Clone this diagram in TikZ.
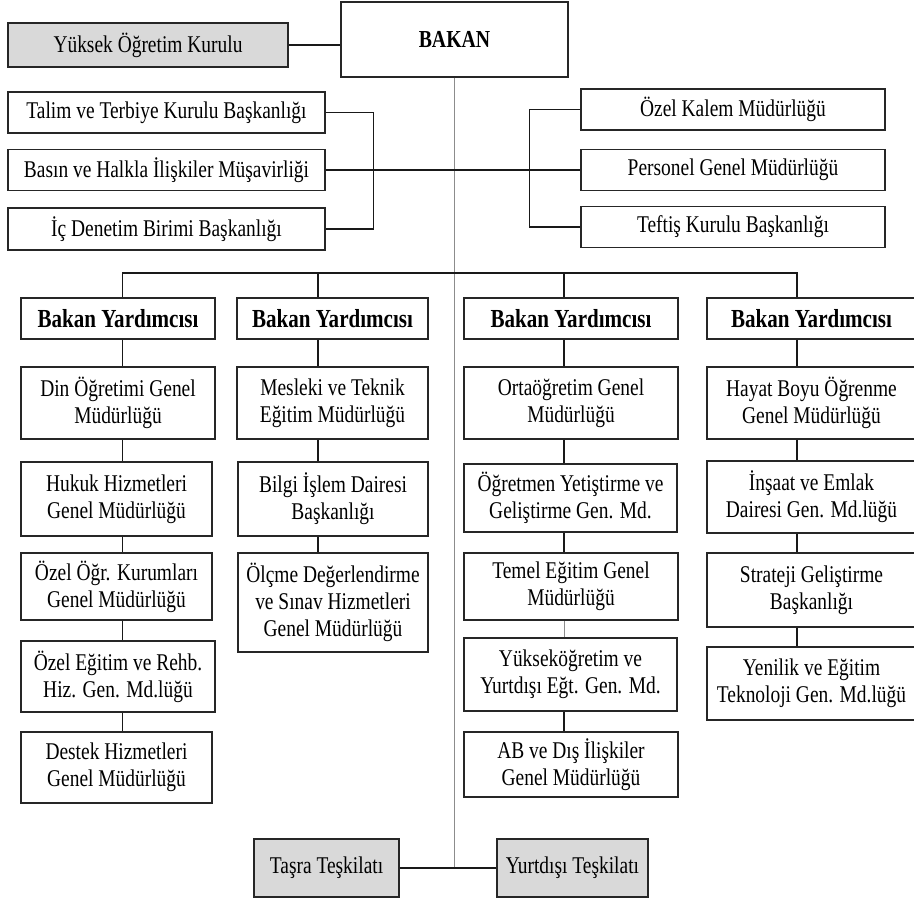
\documentclass[tikz,border=0pt]{standalone}
\usepackage{fontspec}
\setmainfont{Liberation Serif}[FakeStretch=0.81]
\tikzset{
  box/.style={draw=black!85, line width=1.5pt, inner sep=0pt, align=center,
    font=\fontsize{24}{27}\selectfont, text=black},
  gbox/.style={box, fill=black!15},
  bbox/.style={box, font=\fontsize{26}{27}\selectfont\bfseries},
  conn/.style={line width=1.3pt, draw=black!90},
  thinconn/.style={line width=0.9pt, draw=black!45},
}
\begin{document}
\begin{tikzpicture}[x=1pt,y=-1pt]
\useasboundingbox[fill=white] (0,0) rectangle (914,899);

% top level
\node[box, font=\fontsize{24.4}{27}\selectfont\bfseries, minimum width=227pt, minimum height=75pt] (bakan) at (454.5,39.5) {BAKAN};
\node[gbox, minimum width=280pt, minimum height=44pt] (yok) at (148,45) {Yüksek Öğretim Kurulu};

\node[box, minimum width=317pt, minimum height=41pt] (talim) at (166.5,112.5) {Talim ve Terbiye Kurulu Başkanlığı};
\node[box, minimum width=317pt, minimum height=41pt] (basin) at (166.5,170) {Basın ve Halkla İlişkiler Müşavirliği};
\node[box, minimum width=317pt, minimum height=42pt] (icdenetim) at (166.5,229) {İç Denetim Birimi Başkanlığı};

\node[box, minimum width=304pt, minimum height=41pt] (ozelkalem) at (733,109.5) {Özel Kalem Müdürlüğü};
\node[box, minimum width=304pt, minimum height=41pt] (personel) at (733,170) {Personel Genel Müdürlüğü};
\node[box, minimum width=304pt, minimum height=41pt] (teftis) at (733,227) {Teftiş Kurulu Başkanlığı};

% Bakan Yardimcisi row
\node[bbox, minimum width=194pt, minimum height=41pt] (by1) at (118,318.5) {Bakan Yardımcısı};
\node[bbox, minimum width=191pt, minimum height=41pt] (by2) at (332.5,318.5) {Bakan Yardımcısı};
\node[bbox, minimum width=214pt, minimum height=41pt] (by3) at (571,318.5) {Bakan Yardımcısı};
\node[bbox, minimum width=209pt, minimum height=41pt] (by4) at (811.5,318.5) {Bakan Yardımcısı};

% column 1
\node[box, minimum width=194pt, minimum height=72pt] (din) at (118,403) {Din Öğretimi Genel\\Müdürlüğü};
\node[box, minimum width=191pt, minimum height=74pt] (hukuk) at (116.5,499) {Hukuk Hizmetleri\\Genel Müdürlüğü};
\node[box, minimum width=191pt, minimum height=67pt] (ozelogr) at (116.5,586.5) {Özel Öğr. Kurumları\\Genel Müdürlüğü};
\node[box, minimum width=194pt, minimum height=71pt] (ozelegitim) at (118,676.5) {Özel Eğitim ve Rehb.\\Hiz. Gen. Md.lüğü};
\node[box, minimum width=191pt, minimum height=71pt] (destek) at (116.5,767.5) {Destek Hizmetleri\\Genel Müdürlüğü};

% column 2
\node[box, minimum width=191pt, minimum height=72pt] (mesleki) at (332.5,403) {Mesleki ve Teknik\\Eğitim Müdürlüğü};
\node[box, minimum width=190pt, minimum height=74pt] (bilgi) at (333,499) {Bilgi İşlem Dairesi\\Başkanlığı};
\node[box, minimum width=190pt, minimum height=99pt] (olcme) at (333,602.5) {Ölçme Değerlendirme\\ve Sınav Hizmetleri\\Genel Müdürlüğü};

% column 3
\node[box, minimum width=214pt, minimum height=72pt] (orta) at (571,403) {Ortaöğretim Genel\\Müdürlüğü};
\node[box, minimum width=213pt, minimum height=68pt] (ogretmen) at (570.5,498) {Öğretmen Yetiştirme ve\\Geliştirme Gen. Md.};
\node[box, minimum width=214pt, minimum height=67pt] (temel) at (571,586.5) {Temel Eğitim Genel\\Müdürlüğü};
\node[box, minimum width=213pt, minimum height=73pt] (yuksek) at (570.5,674.5) {Yükseköğretim ve\\Yurtdışı Eğt. Gen. Md.};
\node[box, minimum width=214pt, minimum height=65pt] (ab) at (571,764.5) {AB ve Dış İlişkiler\\Genel Müdürlüğü};

% column 4
\node[box, minimum width=209pt, minimum height=72pt] (hayat) at (811.5,403) {Hayat Boyu Öğrenme\\Genel Müdürlüğü};
\node[box, minimum width=209pt, minimum height=72pt] (insaat) at (811.5,497) {İnşaat ve Emlak\\Dairesi Gen. Md.lüğü};
\node[box, minimum width=209pt, minimum height=74pt] (strateji) at (811.5,590) {Strateji Geliştirme\\Başkanlığı};
\node[box, minimum width=209pt, minimum height=73pt] (yenilik) at (811.5,683.5) {Yenilik ve Eğitim\\Teknoloji Gen. Md.lüğü};

% bottom
\node[gbox, minimum width=145pt, minimum height=58pt] (tasra) at (326.5,868) {Taşra Teşkilatı};
\node[gbox, minimum width=151pt, minimum height=58pt] (yurtdisi) at (572.5,868) {Yurtdışı Teşkilatı};

% column coordinates on the bus
\coordinate (c1) at (122.5,273);
\coordinate (c2) at (318,273);
\coordinate (c3) at (564,273);
\coordinate (c4) at (797,273);

% central spine
\draw[thinconn] (bakan.south) -- (bakan.south |- tasra.east);

% connectors top
\draw[conn] (yok.east) -- (yok.east -| bakan.west);
\draw[conn] (talim.east) -- ++(48,0) |- (icdenetim.east);
\draw[conn] (ozelkalem.west) -- ++(-51,0) |- (teftis.west);
\draw[conn] (basin.east) -- (personel.west);

% bus
\draw[conn] (c1 |- by1.north) -- (c1) -- (c4) -- (c4 |- by4.north);
\draw[conn] (c2) -- (c2 |- by2.north);
\draw[conn] (c3) -- (c3 |- by3.north);

% columns
\foreach \a/\b in {by1/din, din/hukuk, hukuk/ozelogr, ozelogr/ozelegitim, ozelegitim/destek}
  \draw[conn] (c1 |- \a.south) -- (c1 |- \b.north);
\foreach \a/\b in {by2/mesleki, mesleki/bilgi, bilgi/olcme}
  \draw[conn] (c2 |- \a.south) -- (c2 |- \b.north);
\foreach \a/\b in {by3/orta, orta/ogretmen, ogretmen/temel, yuksek/ab}
  \draw[conn] (c3 |- \a.south) -- (c3 |- \b.north);
\draw[thinconn] (c3 |- temel.south) -- (c3 |- yuksek.north);
\foreach \a/\b in {by4/hayat, hayat/insaat, insaat/strateji, strateji/yenilik}
  \draw[conn] (c4 |- \a.south) -- (c4 |- \b.north);

% bottom connector
\draw[conn] (tasra.east) -- (yurtdisi.west);
\end{tikzpicture}
\end{document}
